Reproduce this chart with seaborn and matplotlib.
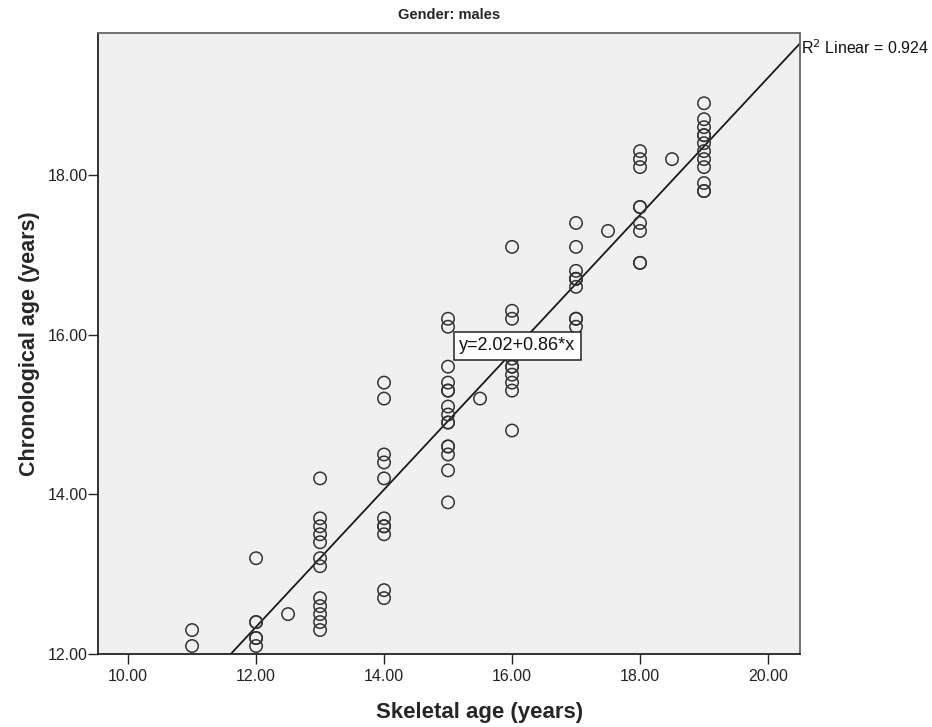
import matplotlib
matplotlib.use("Agg")
import matplotlib.pyplot as plt
import seaborn as sns
import pandas as pd
import numpy as np

# ---- data ----
x11 = [11, 11]
y11 = [12.3, 12.1]
x12 = [12, 12, 12, 12, 12, 12]
y12 = [13.2, 12.4, 12.4, 12.2, 12.2, 12.1]
x12_5 = [12.5]
y12_5 = [12.5]
x13 = [13] * 12
y13 = [14.2, 13.7, 13.6, 13.5, 13.4, 13.2, 13.1, 12.7, 12.6, 12.5, 12.4, 12.3]
x14 = [14] * 11
y14 = [15.4, 15.2, 14.5, 14.4, 14.2, 13.7, 13.6, 13.6, 13.5, 12.8, 12.7]
x15 = [15] * 15
y15 = [16.2, 16.1, 15.6, 15.4, 15.3, 15.3, 15.1, 15.0, 14.9, 14.6, 14.6, 14.5, 14.3, 13.9, 14.9]
x15_5 = [15.5]
y15_5 = [15.2]
x16 = [16] * 10
y16 = [17.1, 16.3, 16.2, 15.7, 15.6, 15.6, 15.5, 15.4, 15.3, 14.8]
x17 = [17] * 10
y17 = [17.4, 17.1, 16.8, 16.7, 16.7, 16.6, 16.2, 16.2, 16.1, 16.7]
x17_5 = [17.5]
y17_5 = [17.3]
x18 = [18] * 9
y18 = [18.3, 18.2, 18.1, 17.6, 17.6, 17.4, 17.3, 16.9, 16.9]
x18_5 = [18.5]
y18_5 = [18.2]
x19 = [19] * 12
y19 = [18.9, 18.7, 18.6, 18.5, 18.5, 18.4, 18.3, 18.2, 18.1, 17.9, 17.8, 17.8]

intercept = 2.02
slope = 0.86
r2_text = "R$^2$ Linear = 0.924"
eq_text = "y=2.02+0.86*x"
xticks = [10, 12, 14, 16, 18, 20]
yticks = [12, 14, 16, 18]
title = "Gender: males"
xlabel = "Skeletal age (years)"
ylabel = "Chronological age (years)"

xs = x11 + x12 + x12_5 + x13 + x14 + x15 + x15_5 + x16 + x17 + x17_5 + x18 + x18_5 + x19
ys = y11 + y12 + y12_5 + y13 + y14 + y15 + y15_5 + y16 + y17 + y17_5 + y18 + y18_5 + y19
df = pd.DataFrame({"skeletal": xs, "chrono": ys})

sns.set_theme(style="ticks")
plt.rcParams["font.family"] = ["Liberation Sans", "DejaVu Sans"]

fig = plt.figure(figsize=(9.32, 7.27), dpi=100)
ax = fig.add_axes([98 / 932, 1 - 654 / 727, (800 - 98) / 932, (654 - 33) / 727])
ax.set_facecolor("#f0f0f0")

sns.scatterplot(data=df, x="skeletal", y="chrono", ax=ax, marker="o",
                s=80, facecolors="none", edgecolor="#333333", linewidth=1.1,
                zorder=3)
ax.axline((0, intercept), slope=slope, color="#1a1a1a", linewidth=1.3, zorder=2)

ax.set_xlim(9.53, 20.5)
ax.set_ylim(12.0, 19.78)
ax.set_xticks(xticks)
ax.set_xticklabels([f"{v:.2f}" for v in xticks])
ax.set_yticks(yticks)
ax.set_yticklabels([f"{v:.2f}" for v in yticks])
ax.tick_params(axis="both", direction="out", length=7, width=1, colors="#222222",
               labelsize=11.5, labelcolor="#222222")
ax.tick_params(axis="x", pad=4)
ax.tick_params(axis="y", pad=0.5)

for sp in ax.spines.values():
    sp.set_visible(True)
    sp.set_color("#666666")
    sp.set_linewidth(1.3)
ax.spines["left"].set_color("#222222")
ax.spines["bottom"].set_color("#222222")

ax.set_xlabel(xlabel, fontsize=16, fontweight="bold")
ax.set_ylabel(ylabel, fontsize=15.5, fontweight="bold")
ax.xaxis.set_label_coords(0.543, -0.077)
ax.yaxis.set_label_coords(-0.083, 0.5)
ax.set_title(title, fontsize=10.5, fontweight="bold", pad=10)

ax.text(1.002, 0.977, r2_text, transform=ax.transAxes, ha="left", va="center",
        fontsize=11.5, color="#111111")
ax.text(15.17, 15.86, eq_text, ha="left", va="center", fontsize=13,
        color="#111111", zorder=5,
        bbox=dict(boxstyle="square,pad=0.3", facecolor="white",
                  edgecolor="#222222", linewidth=1.1))

fig.savefig("out.png", dpi=100)
